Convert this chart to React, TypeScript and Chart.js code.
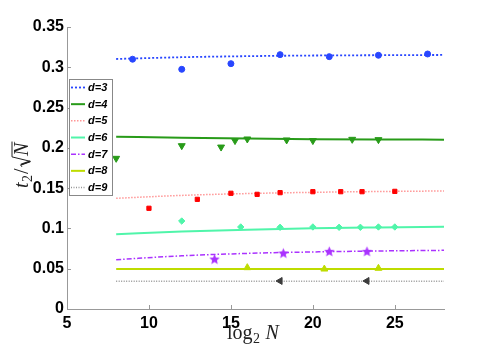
import React, { useEffect, useRef } from "react";
import { Chart, registerables } from "chart.js";
Chart.register(...registerables);

// ---- data ----
const FIT_X = [8, 12, 16, 20, 24, 28];
const FIT_D3 = [0.3103, 0.3125, 0.3138, 0.3146, 0.315, 0.3153];
const FIT_D4 = [0.2139, 0.2125, 0.2115, 0.2108, 0.2104, 0.2102];
const FIT_D5 = [0.1374, 0.141, 0.1433, 0.1448, 0.1458, 0.1465];
const FIT_D6 = [0.0927, 0.0962, 0.0985, 0.1002, 0.1013, 0.1022];
const FIT_D7 = [0.0612, 0.066, 0.069, 0.0708, 0.072, 0.0728];
const FIT_D8 = [0.0495, 0.0495, 0.0495, 0.0495, 0.0495, 0.0495];
const FIT_D9 = [0.0345, 0.0345, 0.0345, 0.0345, 0.0345, 0.0345];

const D3_X = [9, 12, 15, 18, 21, 24, 27];
const D3_Y = [0.31, 0.2975, 0.3045, 0.3157, 0.3132, 0.3149, 0.3165];
const D4_X = [8, 12, 14.4, 15.25, 16, 18.4, 20, 22.4, 24];
const D4_Y = [0.187, 0.2027, 0.201, 0.209, 0.211, 0.2098, 0.209, 0.2106, 0.2102];
const D5_X = [10, 12.95, 15, 16.6, 18, 20, 21.7, 23, 25];
const D5_Y = [0.125, 0.1361, 0.1436, 0.1423, 0.1444, 0.1456, 0.1456, 0.1456, 0.146];
const D6_X = [12, 15.6, 18, 20, 21.6, 22.9, 24, 25];
const D6_Y = [0.1092, 0.1018, 0.1014, 0.1018, 0.1014, 0.1014, 0.1018, 0.1018];
const D7_X = [14, 18.2, 21, 23.3];
const D7_Y = [0.062, 0.0695, 0.0716, 0.0716];
const D8_X = [16, 20.7, 24];
const D8_Y = [0.0513, 0.0496, 0.0505];
const D9_X = [18, 23.3];
const D9_Y = [0.0348, 0.0348];

const LEGEND_LABELS = ["d=3", "d=4", "d=5", "d=6", "d=7", "d=8", "d=9"];
const X_TICKS = [5, 10, 15, 20, 25];
const Y_TICKS = [0, 0.05, 0.1, 0.15, 0.2, 0.25, 0.3, 0.35];

const FITS = [FIT_D3, FIT_D4, FIT_D5, FIT_D6, FIT_D7, FIT_D8, FIT_D9];
const PTS_X = [D3_X, D4_X, D5_X, D6_X, D7_X, D8_X, D9_X];
const PTS_Y = [D3_Y, D4_Y, D5_Y, D6_Y, D7_Y, D8_Y, D9_Y];

// ---- styles ----
function makeStar(color: string, r: number) {
  const c = document.createElement("canvas");
  const s = Math.ceil(r * 2 + 2);
  c.width = s;
  c.height = s;
  const ctx = c.getContext("2d")!;
  ctx.fillStyle = color;
  ctx.beginPath();
  for (let i = 0; i < 10; i++) {
    const rad = i % 2 === 0 ? r : r * 0.45;
    const a = -Math.PI / 2 + (i * Math.PI) / 5;
    const x = s / 2 + rad * Math.cos(a);
    const y = s / 2 + 0.5 + rad * Math.sin(a);
    if (i === 0) ctx.moveTo(x, y);
    else ctx.lineTo(x, y);
  }
  ctx.closePath();
  ctx.fill();
  return c;
}

const STYLES = [
  { line: "rgb(40,70,255)", pt: "rgb(40,70,255)", dash: [2, 2], lw: 1.8, ps: "circle", pr: 3, rot: 0 },
  { line: "rgb(40,155,25)", pt: "rgb(40,155,25)", dash: [], lw: 2, ps: "triangle", pr: 4, rot: 180 },
  { line: "rgb(255,150,150)", pt: "rgb(255,0,0)", dash: [1.5, 1.5], lw: 1.5, ps: "rect", pr: 3, rot: 0 },
  { line: "rgb(80,245,170)", pt: "rgb(80,245,170)", dash: [], lw: 2, ps: "rectRot", pr: 3.2, rot: 0 },
  { line: "rgb(170,50,255)", pt: "rgb(170,50,255)", dash: [5, 2, 1.5, 2], lw: 1.5, ps: "star", pr: 5, rot: 0 },
  { line: "rgb(190,220,0)", pt: "rgb(190,220,0)", dash: [], lw: 2, ps: "triangle", pr: 4, rot: 0 },
  { line: "rgb(150,150,150)", pt: "rgb(60,60,60)", dash: [1, 1.5], lw: 1.5, ps: "triangle", pr: 4, rot: 270 },
];

const AREA = { left: 67, right: 444, top: 27, bottom: 309 };

const decorPlugin = {
  id: "decor",
  afterDraw(chart: any) {
    const ctx = chart.ctx as CanvasRenderingContext2D;
    const xs = chart.scales.x;
    const ys = chart.scales.y;
    const ca = chart.chartArea;
    ctx.save();
    // inward ticks
    ctx.strokeStyle = "#999";
    ctx.lineWidth = 1;
    ctx.setLineDash([]);
    X_TICKS.forEach((v) => {
      const px = Math.round(xs.getPixelForValue(v)) + 0.5;
      ctx.beginPath();
      ctx.moveTo(px, ca.bottom);
      ctx.lineTo(px, ca.bottom - 4);
      ctx.stroke();
    });
    Y_TICKS.forEach((v) => {
      const py = Math.round(ys.getPixelForValue(v)) + 0.5;
      ctx.beginPath();
      ctx.moveTo(ca.left, py);
      ctx.lineTo(ca.left + 4, py);
      ctx.stroke();
    });

    // legend
    const bx = 69, by = 79, bw = 43, bh = 116;
    ctx.fillStyle = "#fff";
    ctx.fillRect(bx, by, bw, bh);
    ctx.strokeStyle = "#888";
    ctx.lineWidth = 1;
    ctx.strokeRect(bx + 0.5, by + 0.5, bw, bh);
    ctx.font = "italic bold 11px 'Liberation Sans', Arial, sans-serif";
    ctx.textBaseline = "middle";
    ctx.textAlign = "left";
    LEGEND_LABELS.forEach((lab, i) => {
      const y = 87.5 + i * 16.67;
      const st = STYLES[i];
      ctx.strokeStyle = st.line;
      ctx.lineWidth = st.lw;
      ctx.setLineDash(st.dash);
      ctx.beginPath();
      ctx.moveTo(71, y);
      ctx.lineTo(85, y);
      ctx.stroke();
      ctx.setLineDash([]);
      ctx.fillStyle = "#000";
      ctx.fillText(lab, 88, y + 0.5);
    });

    // x title: log2 N
    ctx.fillStyle = "#222";
    ctx.textBaseline = "alphabetic";
    const serif = "'Liberation Serif', 'Times New Roman', serif";
    let x = 227;
    const base = 339;
    ctx.font = `20px ${serif}`;
    ctx.fillText("log", x, base);
    x += ctx.measureText("log").width;
    ctx.font = `14px ${serif}`;
    ctx.fillText("2", x + 0.5, base + 4);
    x += ctx.measureText("2").width + 6;
    ctx.font = `italic 20px ${serif}`;
    ctx.fillText("N", x, base);

    // y title: t2/sqrt(N), rotated
    ctx.save();
    ctx.translate(28, 188);
    ctx.rotate(-Math.PI / 2);
    let tx = 0;
    ctx.font = `italic 20px ${serif}`;
    ctx.fillText("t", tx, 0);
    tx += ctx.measureText("t").width + 0.5;
    ctx.font = `14px ${serif}`;
    ctx.fillText("2", tx, 4);
    tx += ctx.measureText("2").width + 1;
    ctx.font = `20px ${serif}`;
    ctx.fillText("/", tx, 0);
    tx += ctx.measureText("/").width + 1.5;
    // radical sign
    ctx.font = `italic 20px ${serif}`;
    const nw = ctx.measureText("N").width;
    ctx.strokeStyle = "#222";
    ctx.lineWidth = 1;
    ctx.beginPath();
    ctx.moveTo(tx, -6);
    ctx.lineTo(tx + 2, -7.5);
    ctx.lineTo(tx + 5.5, 2.5);
    ctx.lineTo(tx + 10, -16);
    ctx.lineTo(tx + 10 + nw + 2, -16);
    ctx.stroke();
    ctx.lineWidth = 1.8;
    ctx.beginPath();
    ctx.moveTo(tx + 2.2, -7);
    ctx.lineTo(tx + 5.5, 2);
    ctx.stroke();
    ctx.fillText("N", tx + 11, 0);
    ctx.restore();

    ctx.restore();
  },
};

export default function App() {
  const ref = useRef<HTMLCanvasElement>(null);
  useEffect(() => {
    const starImg = makeStar(STYLES[4].pt, 5.5);
    const pointSets = STYLES.map((st, i) => ({
      label: "pts" + i,
      data: PTS_X[i].map((xv, j) => ({ x: xv, y: PTS_Y[i][j] })),
      showLine: false,
      pointStyle: i === 4 ? starImg : st.ps,
      pointRadius: st.pr,
      pointRotation: st.rot,
      backgroundColor: st.pt,
      borderColor: st.pt,
      borderWidth: 1,
    }));
    const fitSets = STYLES.map((st, i) => ({
      label: LEGEND_LABELS[i],
      data: FIT_X.map((xv, j) => ({ x: xv, y: FITS[i][j] })),
      showLine: true,
      pointRadius: 0,
      borderColor: st.line,
      borderWidth: st.lw,
      borderDash: st.dash,
      cubicInterpolationMode: "monotone",
      fill: false,
    }));
    const chart = new Chart(ref.current!, {
      type: "scatter",
      data: { datasets: [...pointSets, ...fitSets] as any },
      options: {
        animation: false,
        responsive: false,
        maintainAspectRatio: false,
        layout: { padding: { left: 0, top: AREA.top, right: 491 - AREA.right, bottom: 0 } },
        plugins: { legend: { display: false }, tooltip: { enabled: false } },
        scales: {
          x: {
            type: "linear",
            min: 5,
            max: 28,
            afterBuildTicks: (s: any) => {
              s.ticks = X_TICKS.map((v) => ({ value: v }));
            },
            afterFit: (s: any) => {
              s.height = 348 - AREA.bottom;
            },
            grid: { display: true, drawOnChartArea: false, drawTicks: false },
            border: { display: true, color: "#999", width: 1 },
            ticks: {
              color: "#000",
              padding: 5,
              font: { family: "'Liberation Sans', Arial, sans-serif", size: 16, weight: "bold" },
              callback: (v: any) => String(v),
            },
          },
          y: {
            type: "linear",
            min: 0,
            max: 0.35,
            afterBuildTicks: (s: any) => {
              s.ticks = Y_TICKS.map((v) => ({ value: v }));
            },
            afterFit: (s: any) => {
              s.width = AREA.left;
            },
            grid: { display: true, drawOnChartArea: false, drawTicks: false },
            border: { display: true, color: "#999", width: 1 },
            ticks: {
              color: "#000",
              padding: 3,
              font: { family: "'Liberation Sans', Arial, sans-serif", size: 16, weight: "bold" },
              callback: (v: any) => String(Number(Number(v).toFixed(2))),
            },
          },
        },
      } as any,
      plugins: [decorPlugin],
    });
    return () => chart.destroy();
  }, []);
  return (
    <div style={{ position: "absolute", left: 0, top: 0, width: 491, height: 348, background: "#fff" }}>
      <canvas ref={ref} width={491} height={348} style={{ width: 491, height: 348 }} />
    </div>
  );
}
